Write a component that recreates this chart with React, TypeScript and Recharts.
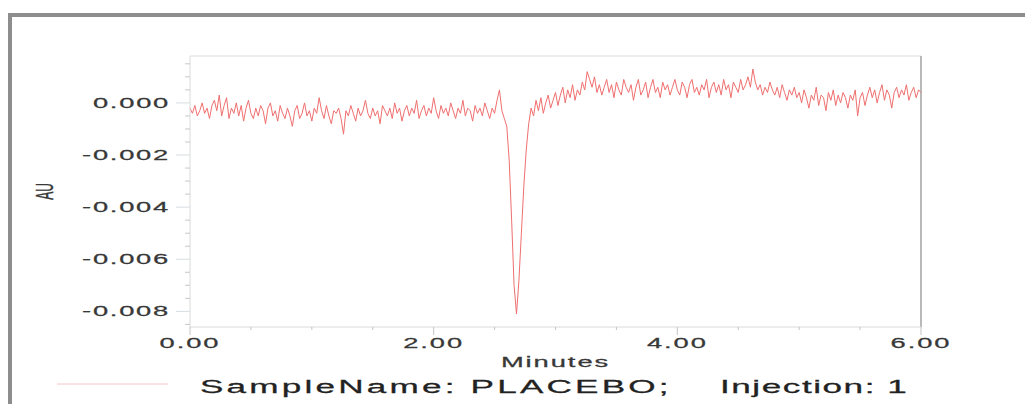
import { LineChart, Line, XAxis, YAxis, Legend, ReferenceLine, Label } from 'recharts';

// detector trace, one sample every 0.02 min, values in mAU
const sampleStep = 0.02;
const signalMilliAU = [
  -0.2, -0.4, -0.1, -0.5, -0.3, 0.0, -0.4, -0.2, -0.6, -0.1,
  0.1, -0.3, 0.3, -0.5, -0.1, 0.2, -0.6, -0.2, -0.4, 0.0,
  -0.5, -0.1, -0.7, -0.2, 0.1, -0.4, -0.6, -0.2, -0.5, -0.1,
  -0.3, -0.8, -0.2, 0.0, -0.5, -0.3, -0.7, -0.1, -0.4, -0.6,
  -0.2, -0.5, -0.9, -0.3, -0.1, -0.6, -0.4, 0.0, -0.5, -0.3,
  -0.7, -0.2, -0.4, 0.2, -0.3, -0.6, -0.1, -0.5, -0.8, -0.3,
  -0.4, -0.2, -0.6, -1.2, -0.3, -0.5, -0.1, -0.4, -0.7, -0.2,
  -0.5, -0.3, 0.1, -0.4, -0.6, -0.2, -0.5, -0.3, -0.8, -0.1,
  -0.3, -0.5, -0.2, -0.6, 0.0, -0.4, -0.2, -0.7, -0.3, -0.1,
  -0.5, -0.2, -0.4, 0.1, -0.6, -0.3, -0.1, -0.5, -0.2, -0.4,
  0.2, -0.3, -0.6, -0.1, -0.4, -0.2, -0.5, 0.0, -0.3, -0.6,
  -0.2, -0.4, 0.1, -0.5, -0.2, -0.3, -0.7, -0.1, -0.4, -0.2,
  -0.5, 0.0, -0.3, -0.6, -0.2, -0.4, 0.1, 0.5, -0.3, -0.6,
  -0.9, -2.2, -4.5, -7.0, -8.1, -6.8, -5.0, -3.2, -1.8, -0.8,
  -0.2, -0.5, 0.1, -0.3, 0.2, -0.4, 0.0, 0.3, -0.2, 0.1,
  0.4, -0.1, 0.3, 0.6, 0.0, 0.5, 0.2, 0.7, 0.1, 0.5,
  0.3, 0.8, 0.5, 1.2, 0.9, 0.6, 1.0, 0.4, 0.7, 0.3,
  0.6, 0.9, 0.4, 0.7, 0.2, 0.8, 0.5, 0.3, 0.9, 0.6,
  0.4, 0.7, 0.1, 0.6, 0.9, 0.3, 0.5, 0.8, 0.2, 0.6,
  0.9, 0.4, 0.6, 0.2, 0.8, 0.5, 0.7, 0.3, 0.6, 0.9,
  0.5, 0.3, 0.8, 0.6, 0.2, 0.7, 0.9, 0.4, 0.6, 0.3,
  0.7, 0.5, 0.9, 0.2, 0.6, 0.8, 0.4, 0.7, 0.3, 0.9,
  0.5, 0.7, 0.2, 0.8, 0.6, 0.4, 0.9, 0.5, 0.7, 1.0,
  0.6, 1.3, 0.8, 0.5, 0.7, 0.3, 0.6, 0.4, 0.8, 0.5,
  0.3, 0.6, 0.2, 0.7, 0.4, 0.1, 0.5, 0.3, 0.6, 0.2,
  0.4, 0.0, 0.5, 0.2, -0.2, 0.3, 0.1, 0.6, -0.1, 0.3,
  0.2, -0.3, 0.4, 0.1, 0.5, -0.1, 0.3, 0.0, 0.4, 0.2,
  -0.2, 0.3, 0.1, 0.5, -0.5, 0.2, 0.4, -0.1, 0.3, 0.6,
  0.2, 0.5, 0.0, 0.4, 0.7, 0.1, 0.5, 0.3, -0.2, 0.4,
  0.6, 0.2, 0.5, 0.3, 0.7, 0.1, 0.4, 0.6, 0.2, 0.5, 0.4,
];

const xTicks = [0, 0.5, 1, 1.5, 2, 2.5, 3, 3.5, 4, 4.5, 5, 5.5, 6];
const xLabelTicks = [0, 2, 4, 6];
const yTicks = [
  -0.0085, -0.008, -0.0075, -0.007, -0.0065, -0.006, -0.0055, -0.005, -0.0045, -0.004, -0.0035,
  -0.003, -0.0025, -0.002, -0.0015, -0.001, -0.0005, 0, 0.0005, 0.001, 0.0015,
];
const yLabelTicks = [-0.008, -0.006, -0.004, -0.002, 0];
const sampleName = 'PLACEBO';
const injection = 1;

const chartData = signalMilliAU.map((v, i) => ({ t: i * sampleStep, au: v / 1000 }));

const FONT = "'Liberation Sans', Arial, sans-serif";
const STRETCH = 1.95; // the source screenshot is wide-stretched

function WideText({ x, y, anchor = 'start', size = 14, spacing = 1, fill = '#383838', rotate, children }: any) {
  const tf = `translate(${x},${y}) scale(${STRETCH},1)` + (rotate ? ` rotate(${rotate})` : '');
  return (
    <text
      transform={tf}
      textAnchor={anchor}
      fontSize={size}
      fontFamily={FONT}
      letterSpacing={spacing}
      fill={fill}
      stroke={fill}
      strokeWidth={0.25}
    >
      {children}
    </text>
  );
}

const Y_TICK_SIZE = 20;
function YTick({ x, y, payload }: any) {
  const axisX = x + Y_TICK_SIZE;
  const major = yLabelTicks.includes(payload.value);
  return (
    <g>
      <line x1={axisX - (major ? 14 : 5)} x2={axisX} y1={y} y2={y} stroke={major ? '#d6dde0' : '#c8c8c8'} />
      {major && (
        <WideText x={axisX - 20} y={y + 5} anchor="end" spacing={0.9}>
          {payload.value.toFixed(3)}
        </WideText>
      )}
    </g>
  );
}

function XTick({ x, y, payload }: any) {
  const major = xLabelTicks.includes(payload.value);
  return (
    <g>
      <line x1={x} x2={x} y1={y} y2={y + (major ? 8 : 3)} stroke="#c4c4c4" />
      {major && (
        <WideText x={x} y={y + 21} anchor="middle" spacing={1}>
          {payload.value.toFixed(2)}
        </WideText>
      )}
    </g>
  );
}

function TraceLegend() {
  return (
    <svg width={1025} height={36}>
      <line x1={57} x2={168} y1={18} y2={18} stroke="#f5c6ca" />
      <WideText x={200} y={27} size={18} spacing={1.65} fill="#222">
        {`SampleName: ${sampleName};`}
      </WideText>
      <WideText x={720} y={27} size={18} spacing={0.8} fill="#222">
        {`Injection: ${injection}`}
      </WideText>
    </svg>
  );
}

export default function App() {
  return (
    <div style={{ position: 'absolute', left: 0, top: 0, width: 1025, height: 404, background: '#fff' }}>
      <div
        style={{
          position: 'absolute',
          left: 8,
          top: 13,
          right: 0,
          bottom: 0,
          borderTop: '4px solid #8d8d8d',
          borderLeft: '4px solid #8d8d8d',
        }}
      />
      <LineChart width={1025} height={404} data={chartData} margin={{ top: 56, right: 104, bottom: 37, left: 10 }}>
        <XAxis
          dataKey="t"
          type="number"
          domain={[0, 6]}
          ticks={xTicks}
          interval={0}
          height={40}
          tickSize={0}
          tickMargin={0}
          tickLine={false}
          axisLine={{ stroke: '#dadada' }}
          tick={(p: any) => <XTick {...p} />}
        >
          <Label
            content={({ viewBox }: any) => (
              <WideText x={viewBox.x + viewBox.width / 2} y={viewBox.y + 40} anchor="middle" size={14} spacing={1}>
                Minutes
              </WideText>
            )}
          />
        </XAxis>
        <YAxis
          type="number"
          domain={[-0.0086, 0.0018]}
          ticks={yTicks}
          interval={0}
          width={180}
          tickSize={Y_TICK_SIZE}
          tickMargin={0}
          tickLine={false}
          axisLine={{ stroke: '#dadada' }}
          tick={(p: any) => <YTick {...p} />}
        >
          <Label
            content={({ viewBox }: any) => (
              <WideText x={viewBox.x + 43} y={viewBox.y + viewBox.height / 2} anchor="middle" size={12} spacing={0} rotate={-90}>
                AU
              </WideText>
            )}
          />
        </YAxis>
        <ReferenceLine y={0.0018} stroke="#dddddd" />
        <ReferenceLine x={6} stroke="#b9b9b9" strokeWidth={2} />
        <Line type="linear" dataKey="au" stroke="#ef6f6f" strokeWidth={1} dot={false} isAnimationActive={false} />
        <Legend
          layout="horizontal"
          verticalAlign="middle"
          align="center"
          wrapperStyle={{ top: 366, left: 0, width: 1025, height: 36 }}
          content={() => <TraceLegend />}
        />
      </LineChart>
    </div>
  );
}
